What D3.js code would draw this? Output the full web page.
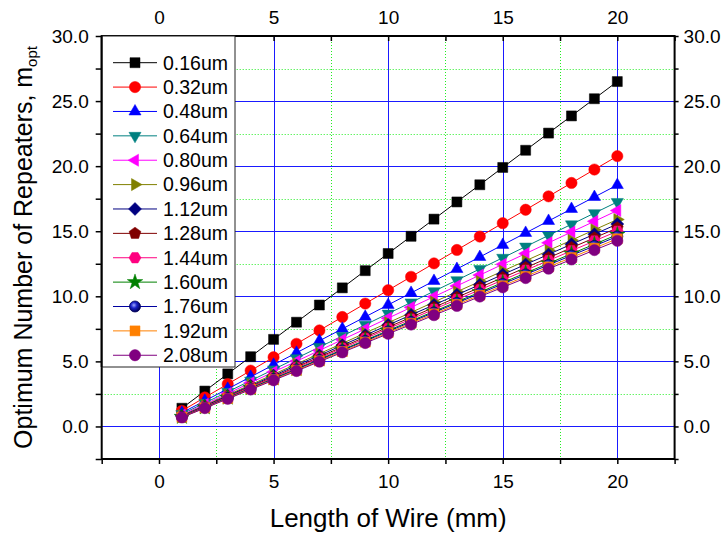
<!DOCTYPE html>
<html>
<head>
<meta charset="utf-8">
<script src="https://cdnjs.cloudflare.com/ajax/libs/d3/7.8.5/d3.min.js"></script>
<style>
  body { margin: 0; background: #fff; }
  text { font-family: "Liberation Sans", Arial, sans-serif; fill: #000; }
</style>
</head>
<body>
<div id="chart"></div>
<script>
const lengths = [1, 2, 3, 4, 5, 6, 7, 8, 9, 10, 11, 12, 13, 14, 15, 16, 17, 18, 19, 20];

const m016 = [1.40, 2.72, 4.04, 5.36, 6.69, 8.01, 9.33, 10.65, 11.97, 13.29, 14.61, 15.93, 17.25, 18.57, 19.90, 21.22, 22.54, 23.86, 25.18, 26.50];
const m032 = [1.20, 2.23, 3.26, 4.29, 5.32, 6.35, 7.38, 8.41, 9.44, 10.47, 11.50, 12.53, 13.56, 14.59, 15.62, 16.65, 17.68, 18.71, 19.74, 20.77];
const m048 = [1.05, 1.97, 2.89, 3.81, 4.74, 5.66, 6.58, 7.50, 8.42, 9.34, 10.26, 11.18, 12.10, 13.02, 13.95, 14.87, 15.79, 16.71, 17.63, 18.55];
const m064 = [0.95, 1.81, 2.66, 3.52, 4.38, 5.24, 6.10, 6.95, 7.81, 8.67, 9.53, 10.39, 11.24, 12.10, 12.96, 13.82, 14.68, 15.53, 16.39, 17.25];
const m080 = [0.88, 1.70, 2.53, 3.36, 4.19, 5.01, 5.84, 6.67, 7.49, 8.32, 9.15, 9.97, 10.80, 11.63, 12.46, 13.28, 14.11, 14.94, 15.76, 16.59];
const m096 = [0.83, 1.63, 2.42, 3.21, 4.01, 4.80, 5.59, 6.38, 7.18, 7.97, 8.76, 9.56, 10.35, 11.14, 11.94, 12.73, 13.52, 14.31, 15.11, 15.90];
const m112 = [0.81, 1.58, 2.36, 3.13, 3.91, 4.69, 5.46, 6.24, 7.01, 7.79, 8.57, 9.34, 10.12, 10.89, 11.67, 12.45, 13.22, 14.00, 14.77, 15.55];
const m128 = [0.77, 1.53, 2.30, 3.06, 3.82, 4.58, 5.34, 6.11, 6.87, 7.63, 8.39, 9.15, 9.92, 10.68, 11.44, 12.20, 12.96, 13.73, 14.49, 15.25];
const m144 = [0.76, 1.51, 2.26, 3.01, 3.76, 4.51, 5.26, 6.01, 6.76, 7.51, 8.25, 9.00, 9.75, 10.50, 11.25, 12.00, 12.75, 13.50, 14.25, 15.00];
const m160 = [0.74, 1.47, 2.21, 2.95, 3.69, 4.42, 5.16, 5.90, 6.63, 7.37, 8.11, 8.84, 9.58, 10.32, 11.06, 11.79, 12.53, 13.27, 14.00, 14.74];
const m176 = [0.73, 1.46, 2.19, 2.92, 3.65, 4.38, 5.11, 5.84, 6.57, 7.30, 8.03, 8.76, 9.49, 10.22, 10.95, 11.68, 12.41, 13.14, 13.87, 14.60];
const m192 = [0.71, 1.43, 2.15, 2.88, 3.60, 4.32, 5.04, 5.76, 6.48, 7.21, 7.93, 8.65, 9.37, 10.09, 10.81, 11.53, 12.26, 12.98, 13.70, 14.42];
const m208 = [0.69, 1.41, 2.12, 2.84, 3.55, 4.26, 4.98, 5.69, 6.41, 7.12, 7.83, 8.55, 9.26, 9.98, 10.69, 11.40, 12.12, 12.83, 13.55, 14.26];

const seriesNames = ["0.16um", "0.32um", "0.48um", "0.64um", "0.80um", "0.96um", "1.12um",
                     "1.28um", "1.44um", "1.60um", "1.76um", "1.92um", "2.08um"];
const seriesValues = [m016, m032, m048, m064, m080, m096, m112, m128, m144, m160, m176, m192, m208];
const seriesColors = ["#000000", "#ff0000", "#0000ff", "#008080", "#ff00ff", "#808000", "#000080",
                      "#800000", "#ff0080", "#008000", "#0000a0", "#ff8000", "#800080"];
const seriesShapes = ["square", "circle", "triUp", "triDown", "triLeft", "triRight", "diamond",
                      "pentagon", "hexagon", "star", "ball", "square", "circle"];

const xTicks = [-2.5, 0, 2.5, 5, 7.5, 10, 12.5, 15, 17.5, 20, 22.5];
const xLabels = [0, 5, 10, 15, 20];
const yTicks = [-2.5, 0, 2.5, 5, 7.5, 10, 12.5, 15, 17.5, 20, 22.5, 25, 27.5, 30];
const yLabels = [0, 5, 10, 15, 20, 25, 30];

const width = 727, height = 537;
const plotLeft = 101.7, plotRight = 674.6, plotTop = 36, plotBottom = 459;

const svg = d3.select('#chart')
    .append('svg')
    .attr('width', width)
    .attr('height', height);

svg.append('rect').attr('width', width).attr('height', height).attr('fill', '#fff');

const defs = svg.append('defs');
const grad = defs.append('radialGradient')
    .attr('id', 'ballGrad')
    .attr('cx', '40%').attr('cy', '38%').attr('r', '60%');
grad.append('stop').attr('offset', '0%').attr('stop-color', '#9fa8ff');
grad.append('stop').attr('offset', '45%').attr('stop-color', '#1a22c8');
grad.append('stop').attr('offset', '100%').attr('stop-color', '#00005a');

const x = d3.scaleLinear().domain([-2.5, 22.5]).range([plotLeft, plotRight]);
const y = d3.scaleLinear().domain([-2.5, 30]).range([plotBottom, plotTop]);

// grid
const minorX = [2.5, 7.5, 12.5, 17.5];
const majorX = [0, 5, 10, 15, 20];
const minorY = [2.5, 7.5, 12.5, 17.5, 22.5, 27.5];
const majorY = [0, 5, 10, 15, 20, 25];

const grid = svg.append('g').attr('class', 'grid');
grid.selectAll('.minor-x').data(minorX).enter().append('line')
    .attr('x1', d => Math.round(x(d)) + 0.5).attr('x2', d => Math.round(x(d)) + 0.5)
    .attr('y1', plotTop).attr('y2', plotBottom)
    .attr('stroke', '#22ee22').attr('stroke-width', 1).attr('stroke-dasharray', '1,2');
grid.selectAll('.minor-y').data(minorY).enter().append('line')
    .attr('y1', d => Math.round(y(d)) + 0.5).attr('y2', d => Math.round(y(d)) + 0.5)
    .attr('x1', plotLeft).attr('x2', plotRight)
    .attr('stroke', '#22ee22').attr('stroke-width', 1).attr('stroke-dasharray', '1,2');
grid.selectAll('.major-x').data(majorX).enter().append('line')
    .attr('x1', d => Math.round(x(d)) + 0.5).attr('x2', d => Math.round(x(d)) + 0.5)
    .attr('y1', plotTop).attr('y2', plotBottom)
    .attr('stroke', '#1a1aff').attr('stroke-width', 1);
grid.selectAll('.major-y').data(majorY).enter().append('line')
    .attr('y1', d => Math.round(y(d)) + 0.5).attr('y2', d => Math.round(y(d)) + 0.5)
    .attr('x1', plotLeft).attr('x2', plotRight)
    .attr('stroke', '#1a1aff').attr('stroke-width', 1);

// axes
const fmtX = d => xLabels.includes(d) ? d3.format('d')(d) : '';
const fmtY = d => yLabels.includes(d) ? d3.format('.1f')(d) : '';

function styleAxis(g) {
    g.select('.domain').remove();
    g.selectAll('.tick line').attr('stroke', '#000').attr('stroke-width', 1.5);
    g.selectAll('.tick text').style('font-size', '19px').style('font-family', '"Liberation Sans", Arial, sans-serif');
}

svg.append('g')
    .attr('transform', `translate(0,${plotBottom})`)
    .call(d3.axisBottom(x).tickValues(xTicks).tickFormat(fmtX).tickSizeInner(5).tickSizeOuter(0).tickPadding(11))
    .call(styleAxis);

svg.append('g')
    .attr('transform', `translate(0,${plotTop})`)
    .call(d3.axisTop(x).tickValues(xTicks).tickFormat(fmtX).tickSizeInner(-5).tickSizeOuter(0).tickPadding(12))
    .call(styleAxis);

svg.append('g')
    .attr('transform', `translate(${plotLeft},0)`)
    .call(d3.axisLeft(y).tickValues(yTicks).tickFormat(fmtY).tickSizeInner(6).tickSizeOuter(0).tickPadding(7))
    .call(styleAxis);

svg.append('g')
    .attr('transform', `translate(${plotRight},0)`)
    .call(d3.axisRight(y).tickValues(yTicks).tickFormat(fmtY).tickSizeInner(4).tickSizeOuter(0).tickPadding(5))
    .call(styleAxis);

// markers
function polygon(n, r, rot) {
    const pts = [];
    for (let i = 0; i < n; i++) {
        const a = rot + i * 2 * Math.PI / n;
        pts.push([r * Math.cos(a), r * Math.sin(a)]);
    }
    return 'M' + pts.map(p => p[0].toFixed(2) + ',' + p[1].toFixed(2)).join('L') + 'Z';
}

function markerPath(shape) {
    switch (shape) {
        case 'square': return 'M-5,-5L5,-5L5,5L-5,5Z';
        case 'circle': return d3.symbol().type(d3.symbolCircle).size(100)();
        case 'ball': return d3.symbol().type(d3.symbolCircle).size(95)();
        case 'triUp': return polygon(3, 7, -Math.PI / 2);
        case 'triDown': return polygon(3, 7, Math.PI / 2);
        case 'triLeft': return polygon(3, 7, Math.PI);
        case 'triRight': return polygon(3, 7, 0);
        case 'diamond': return polygon(4, 6.5, -Math.PI / 2);
        case 'pentagon': return polygon(5, 6.2, -Math.PI / 2);
        case 'hexagon': return polygon(6, 6, 0);
        case 'star': return d3.symbol().type(d3.symbolStar).size(75)();
    }
}

function addMarker(g, shape, color) {
    g.append('path')
        .attr('d', markerPath(shape))
        .attr('fill', shape === 'ball' ? 'url(#ballGrad)' : color)
        .attr('stroke', shape === 'ball' ? '#00005a' : color)
        .attr('stroke-width', shape === 'ball' ? 0.8 : 0.5);
}

const line = d3.line()
    .x(d => x(d[0]))
    .y(d => y(d[1]));

seriesValues.forEach((vals, i) => {
    const pts = lengths.map((l, j) => [l, vals[j]]);
    const g = svg.append('g').attr('class', 'series');
    g.append('path')
        .datum(pts)
        .attr('d', line)
        .attr('fill', 'none')
        .attr('stroke', seriesColors[i])
        .attr('stroke-width', 1);
    g.selectAll('.pt')
        .data(pts)
        .enter()
        .append('g')
        .attr('transform', d => `translate(${x(d[0])},${y(d[1])})`)
        .each(function () { addMarker(d3.select(this), seriesShapes[i], seriesColors[i]); });
});

// frame
svg.append('rect')
    .attr('x', plotLeft).attr('y', plotTop)
    .attr('width', plotRight - plotLeft).attr('height', plotBottom - plotTop)
    .attr('fill', 'none').attr('stroke', '#000').attr('stroke-width', 2);

// legend
const legend = svg.append('g').attr('class', 'legend');
legend.append('rect')
    .attr('x', plotLeft).attr('y', plotTop)
    .attr('width', 235 - plotLeft).attr('height', 367 - plotTop)
    .attr('fill', '#fff').attr('stroke', '#222').attr('stroke-width', 1);
legend.append('line')
    .attr('x1', plotLeft).attr('x2', plotLeft).attr('y1', plotTop).attr('y2', 367)
    .attr('stroke', '#000').attr('stroke-width', 2);

seriesNames.forEach((name, i) => {
    const cy = 62.7 + i * 24.38;
    const item = legend.append('g').attr('transform', `translate(0,${cy})`);
    item.append('line')
        .attr('x1', 113).attr('x2', 157).attr('y1', 0).attr('y2', 0)
        .attr('stroke', seriesColors[i]).attr('stroke-width', 1);
    const m = item.append('g').attr('transform', 'translate(135,0)');
    addMarker(m, seriesShapes[i], seriesColors[i]);
    item.append('text')
        .attr('x', 163).attr('y', 0).attr('dy', '0.35em')
        .style('font-size', '19.5px')
        .text(name);
});

// titles
svg.append('text')
    .attr('x', (plotLeft + plotRight) / 2).attr('y', 527)
    .attr('text-anchor', 'middle')
    .style('font-size', '26px')
    .text('Length of Wire (mm)');

const yt = svg.append('text')
    .attr('transform', `translate(32,${(plotTop + plotBottom) / 2}) rotate(-90)`)
    .attr('text-anchor', 'middle')
    .style('font-size', '25px');
yt.append('tspan').text('Optimum Number of Repeaters, m');
yt.append('tspan').attr('dy', '0.3em').style('font-size', '15px').text('opt');
</script>
</body>
</html>
